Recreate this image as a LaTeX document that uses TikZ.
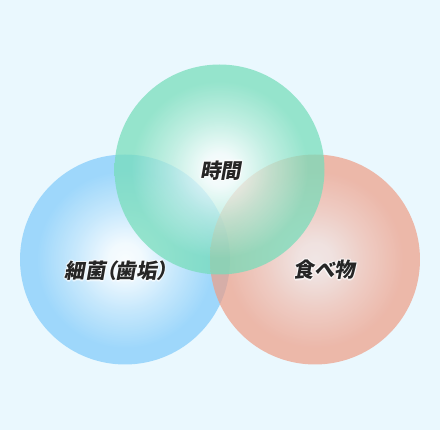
\documentclass[tikz,border=0pt]{standalone}
\usepackage{fontspec}
\newfontfamily\jpfont[FakeSlant=0.18,RawFeature=+palt]{Noto Sans CJK JP}
\definecolor{bgc}{RGB}{234,248,254}
\definecolor{bedge}{RGB}{127,202,250}
\definecolor{gedge}{RGB}{118,221,186}
\definecolor{redge}{RGB}{238,157,134}
\definecolor{rcenter}{RGB}{243,222,218}
\definecolor{txt}{RGB}{38,38,38}
\pgfdeclareradialshading{blueball}{\pgfpoint{0bp}{0bp}}{color(0bp)=(white); color(4bp)=(white!92!bedge); color(12bp)=(white!45!bedge); color(21bp)=(bedge); color(50bp)=(bedge)}
\pgfdeclareradialshading{greenball}{\pgfpoint{0bp}{0bp}}{color(0bp)=(white); color(4bp)=(white!92!gedge); color(12bp)=(white!45!gedge); color(21bp)=(gedge); color(50bp)=(gedge)}
\pgfdeclareradialshading{redball}{\pgfpoint{0bp}{0bp}}{color(0bp)=(rcenter); color(4bp)=(rcenter!92!redge); color(12bp)=(rcenter!45!redge); color(21bp)=(redge); color(50bp)=(redge)}
\tikzset{
  setcircle/.style={circle, minimum size=210pt, inner sep=0pt, outer sep=0pt, fill opacity=0.7},
  label/.style={inner sep=0pt, text=txt, font=\jpfont\bfseries\fontsize{20.5}{24}\selectfont},
  glow/.style={inner sep=0pt, text=white, text opacity=0.45, font=\jpfont\bfseries\fontsize{20.5}{24}\selectfont}
}
\begin{document}
\begin{tikzpicture}[x=1pt,y=-1pt]
\useasboundingbox (0,0) rectangle (440,430);
\fill[bgc] (0,0) rectangle (440,430);
\node[setcircle, shading=blueball] (bac) at (125,259.5) {};
\node[setcircle, shading=redball] (food) at (315,259.5) {};
\node[setcircle, shading=greenball, fill opacity=0.73] (time) at (219.5,169.5) {};
\foreach \dx/\dy [count=\i] in {1.3/0, -1.3/0, 0/1.3, 0/-1.3, 0.9/0.9, -0.9/0.9, 0.9/-0.9, -0.9/-0.9} {
  \node[glow] (gt\i) at (220.5+\dx,170.5+\dy) {時間};
  \node[glow] (gb\i) at (116+\dx,271+\dy) {細菌（歯垢）};
  \node[glow] (gf\i) at (324+\dx,270+\dy) {食べ物};
}
\node[label] (ttime) at (220.5,170.5) {時間};
\node[label] (tbac) at (116,271) {細菌（歯垢）};
\node[label] (tfood) at (324,270) {食べ物};
\end{tikzpicture}
\end{document}
